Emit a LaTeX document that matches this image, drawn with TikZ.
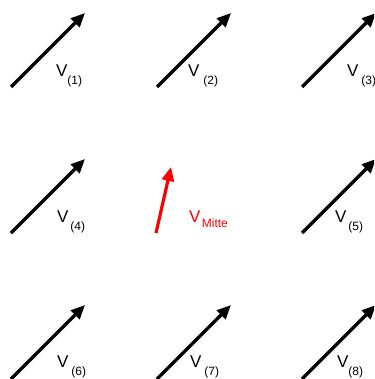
\documentclass[tikz,border=0pt]{standalone}
\usepackage{fontspec}
\setmainfont{Liberation Sans}
\usetikzlibrary{arrows.meta}
\newcommand{\vlbl}[2]{{\fontsize{17}{17}\selectfont V}\hspace*{#1pt}\raisebox{-8pt}{\fontsize{12}{12}\selectfont #2}}
\begin{document}
\begin{tikzpicture}[x=1pt,y=-1pt,
  vec/.style={line width=3.2pt,-{Triangle[length=14pt,width=12pt]}},
  lbl/.style={anchor=base west,inner sep=0pt,outer sep=0pt}]
\useasboundingbox (0,0) rectangle (374,379);
\clip (0,0) rectangle (374,379);
\fill[white] (0,0) rectangle (374,379);
% black arrows on a grid
\foreach \i/\x/\y in {1/0/0,2/146/0,3/291/0,4/0/146,5/291/146,6/0/292,7/146/292,8/291/292}{
  \coordinate (t\i) at (11+\x,87+\y);
  \coordinate (h\i) at (85+\x,13+\y);
  \draw[vec] (t\i) -- (h\i);
}
% red arrow
\coordinate (tm) at (156,233);
\coordinate (hm) at (171,167);
\draw[vec,red] (tm) -- (hm);
% labels
\node[lbl] (l1) at (56,77) {\vlbl{0}{(1)}};
\node[lbl] (l2) at (188,77) {\vlbl{4}{(2)}};
\node[lbl] (l3) at (347,77) {\vlbl{3}{(3)}};
\node[lbl] (l4) at (57,222) {\vlbl{2}{(4)}};
\node[lbl] (l5) at (335,222) {\vlbl{2}{(5)}};
\node[lbl] (l6) at (57,367) {\vlbl{3}{(6)}};
\node[lbl] (l7) at (190,367) {\vlbl{3}{(7)}};
\node[lbl] (l8) at (337,367) {\vlbl{0}{(8)}};
\node[lbl,text=red] (lm) at (189,222) {{\fontsize{17}{17}\selectfont V}\hspace*{1.5pt}\raisebox{-5pt}{\fontsize{12}{12}\selectfont Mitte}};
\end{tikzpicture}
\end{document}
